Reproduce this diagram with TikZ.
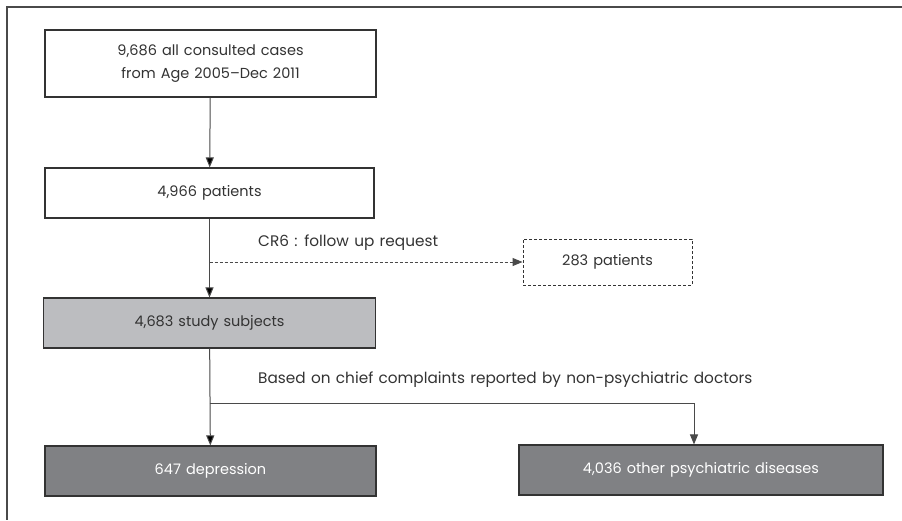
\documentclass[tikz,border=0pt]{standalone}
\usepackage{fontspec}
\setmainfont{Poppins}[WordSpace=1.3]
\usetikzlibrary{arrows.meta,positioning}
\definecolor{linegray}{HTML}{4A4A4A}
\definecolor{textgray}{HTML}{333333}
\definecolor{lightbox}{HTML}{BCBDC0}
\definecolor{darkbox}{HTML}{808184}
\tikzset{
    stage/.style={
    rectangle,draw=textgray,line width=1.1pt,fill=white,text=textgray,inner sep=0pt,align=center,font=\fontsize{14.5}{23}\selectfont
    },
    dstage/.style={
    stage,densely dashed,line width=0.9pt,draw=textgray
    },
    chosen/.style={
    stage,fill=lightbox
    },
    result/.style={
    stage,fill=darkbox,text=white
    },
    note/.style={
    text=textgray,inner sep=0pt,anchor=west,font=\fontsize{15.3}{17}\selectfont
    },
    flow/.style={
    draw=linegray,line width=1pt,-{Triangle[length=10pt,width=8pt]}
    },
}
\begin{document}
\begin{tikzpicture}[x=1pt,y=-1pt]
   \useasboundingbox (0,0) rectangle (902,520);
   \draw[linegray,line width=1.2pt] (902,7) -- (7,7) -- (7,520);

   \node[stage,minimum width=331,minimum height=67] (all) at (210.5,63.5) {9,686 all consulted cases\\from Age 2005\textendash Dec 2011};
   \node[stage,minimum width=329,minimum height=50] (pat) at (209.5,193) {4,966 patients};
   \node[dstage,minimum width=169,minimum height=46] (fup) at (607.5,262) {283 patients};
   \node[chosen,minimum width=332,minimum height=50] (stu) at (209.5,323) {4,683 study subjects};
   \node[result,minimum width=331,minimum height=50] (dep) at (210.5,471) {647 depression};
   \node[result,minimum width=364,minimum height=50] (oth) at (701,470) {4,036 other psychiatric diseases};

   \coordinate (cr) at (209.5,262);
   \coordinate (sp) at (209.5,403);
   \coordinate (sq) at (694,403);
   \node[note] (crl) at (258,243) {CR6 : follow up request};
   \node[note] (bas) at (258,380) {Based on chief complaints reported by non-psychiatric doctors};

  \path[flow]
    (all) edge (pat)
    (pat) edge (stu)
    (stu) edge (dep);
  \draw[flow,densely dashed] (cr) -- (fup);
  \draw[flow] (sp) -- (sq) -- (sq |- oth.north);
  \end{tikzpicture}
\end{document}
